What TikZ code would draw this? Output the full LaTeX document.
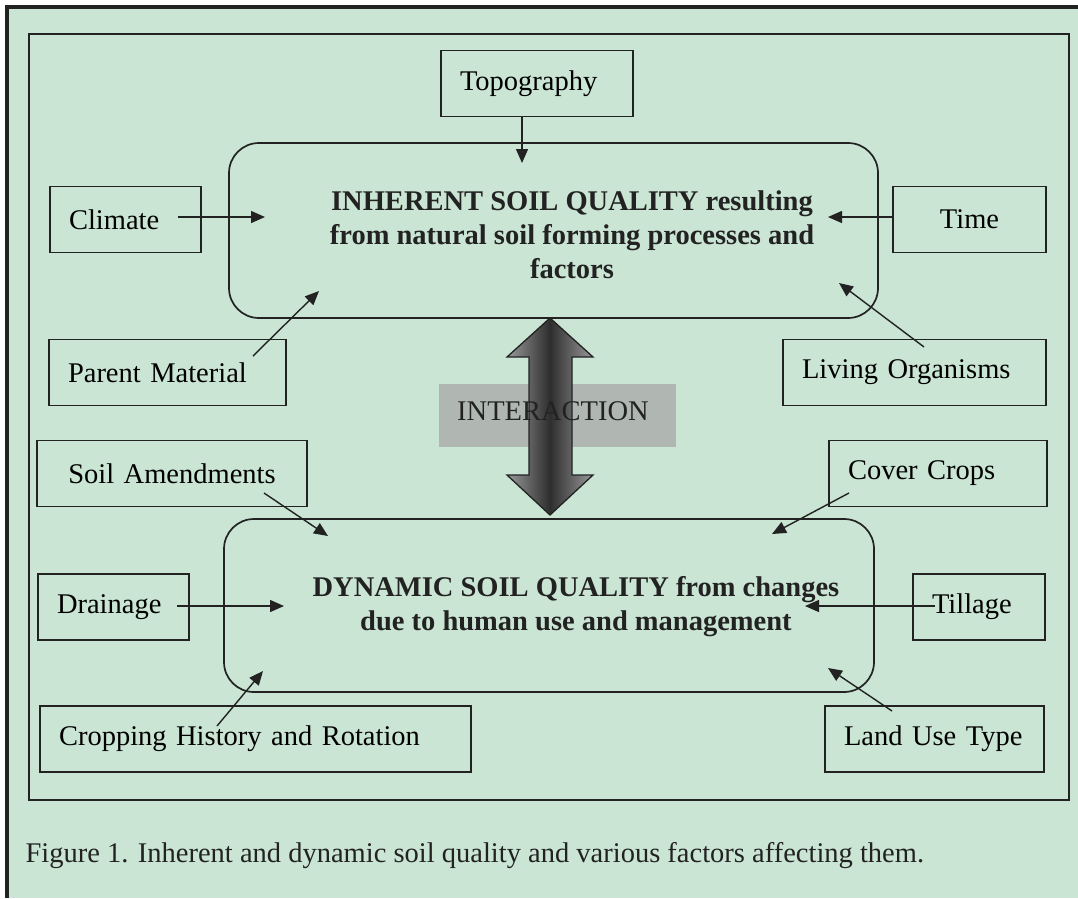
\documentclass[tikz,border=0pt]{standalone}
\usepackage{fontspec}
\setmainfont{Liberation Serif}
\usetikzlibrary{arrows.meta}
\definecolor{paper}{RGB}{202,229,212}
\definecolor{ink}{RGB}{34,34,34}
\definecolor{band}{RGB}{176,183,178}
\begin{document}
\begin{tikzpicture}[
  x=1pt, y=-1pt,
  factor/.style={draw=ink, line width=1.5pt, minimum height=66pt, inner xsep=19pt, align=left,
    font=\fontsize{28.5}{34}\selectfont},
  soilbox/.style={draw=ink, line width=1.7pt, rounded corners=30pt},
  heading/.style={align=center, font=\fontsize{28.5}{34}\selectfont\bfseries, text=ink},
  feed/.style={draw=ink, line width=1.4pt, -{Triangle[length=14pt,width=12pt]}}
]
\useasboundingbox (0,0) rectangle (1078,898);
\fill[white] (0,0) rectangle (1078,898);
\fill[paper] (7,7) rectangle (1078,898);
\draw[ink, line width=3.5pt] (7,898) -- (7,7) -- (1078,7);
\draw[ink, line width=1.8pt] (29,34) rectangle (1069,800);

% factor boxes, text from the left
\foreach \name/\cx/\cy/\tw/\txt in {topo/537/83.5/154/Topography, climate/125.5/219.5/113/Climate,
    parent/167.5/372.5/199/Parent Material, living/914.5/372.5/225/Living Organisms,
    cover/938/473.5/180/Cover Crops, drain/113.5/607/113/Drainage, tillage/979/607/94/Tillage,
    cropping/255.5/739/393/Cropping History and Rotation, landuse/934.5/739/181/Land Use Type} {
  \node[factor, text width=\tw pt] (\name) at (\cx,\cy) {\txt};
}
% factor boxes, text centred
\foreach \name/\cx/\cy/\tw/\txt in {time/969.5/219.5/115/Time, amend/172/473.5/232/Soil Amendments} {
  \node[factor, text width=\tw pt, align=center] (\name) at (\cx,\cy) {\txt};
}

% the two soil quality boxes
\node[soilbox, minimum width=649pt, minimum height=175pt] (inherent) at (553.5,230.5) {};
\node[heading] (inherent-txt) at (572,235) {INHERENT SOIL QUALITY resulting\\from natural soil forming processes and\\factors};
\node[soilbox, minimum width=650pt, minimum height=173pt] (dynamic) at (549,605.5) {};
\node[heading] (dynamic-txt) at (576,607) {DYNAMIC SOIL QUALITY from changes\\due to human use and management};

% interaction band and double arrow
\node[fill=band, minimum width=237pt, minimum height=63pt, inner sep=0pt] (ia-band) at (557.5,415.5) {};
\path[draw=ink, line width=1.3pt, left color=black!40, right color=black!40, middle color=black!82]
  (550,318) -- (593,357) -- (572,357) -- (572,475) -- (593,475) -- (550,515)
  -- (507,475) -- (529,475) -- (529,357) -- (507,357) -- cycle;
\node[font=\fontsize{28.5}{34}\selectfont, text=ink] (ia-text) at (553,411) {INTERACTION};

% connectors
\foreach \name/\sx/\sy/\tx/\ty in {topo/522/117/522/163, climate/178/217/265/217, time/893/217/828/217,
    parent/253/356/319/291, living/924/347/839/283, amend/264/493/328/536, cover/849/493/772/534,
    drain/177/606/284/606, tillage/935/606/805/606, cropping/217/726/263/671, landuse/892/711/828/668} {
  \coordinate (\name-s) at (\sx,\sy);
  \coordinate (\name-t) at (\tx,\ty);
  \draw[feed] (\name-s) -- (\name-t);
}

\node[anchor=base west, font=\fontsize{28.5}{34}\selectfont, text=ink] (caption) at (22,862)
  {Figure 1. Inherent and dynamic soil quality and various factors affecting them.};
\end{tikzpicture}
\end{document}
